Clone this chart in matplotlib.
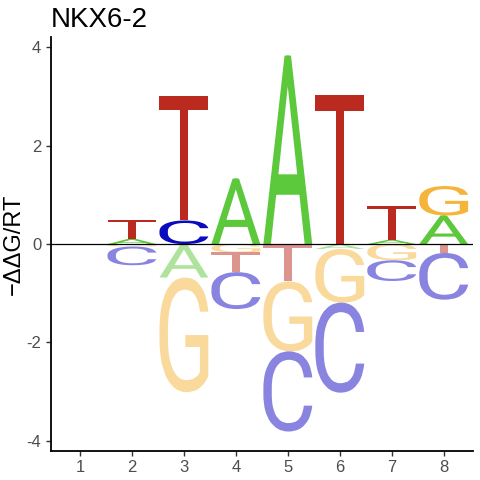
import matplotlib
matplotlib.use('Agg')
import matplotlib.pyplot as plt
import numpy as np
from matplotlib.font_manager import FontProperties
from matplotlib.textpath import TextPath
from matplotlib.patches import PathPatch
from matplotlib.transforms import Affine2D

plt.rcParams['axes.unicode_minus'] = False
plt.rcParams['font.family'] = ['Liberation Sans', 'DejaVu Sans']

# energy logo values (-ddG/RT) per position
positions = [1, 2, 3, 4, 5, 6, 7, 8]
letters = ['A', 'C', 'G', 'T']
val_A = [0.0, 0.11, -0.68, 1.33, 3.83, -0.10, 0.09, 0.58]
val_C = [0.0, -0.38, 0.48, -0.75, -1.63, -1.83, -0.42, -0.95]
val_G = [0.0, -0.05, -2.33, -0.17, -1.42, -1.09, -0.33, 0.60]
val_T = [0.0, 0.37, 2.53, -0.40, -0.76, 3.03, 0.69, -0.18]

colors_pos = {'A': '#5CC83C', 'C': '#0A0ABF', 'G': '#F5B53A', 'T': '#BA2A1E'}
colors_neg = {'A': '#ADE39D', 'C': '#8884E0', 'G': '#FADA9C', 'T': '#DC948E'}

glyph_font = FontProperties(family='Roboto', weight='normal')
LETTER_W = 0.94


def letter_patch(ch, x, y0, h, color):
    path = TextPath((0, 0), ch, size=1, prop=glyph_font)
    ext = path.get_extents()
    tr = (Affine2D().translate(-ext.x0, -ext.y0)
          .scale(LETTER_W / ext.width, h / ext.height)
          .translate(x - LETTER_W / 2, y0))
    return PathPatch(tr.transform_path(path), facecolor=color, edgecolor='none', lw=0)


fig = plt.figure(figsize=(4.8, 4.8), dpi=100)
ax = fig.add_axes([0.106, 0.061, 0.879, 0.862])

table = {'A': val_A, 'C': val_C, 'G': val_G, 'T': val_T}
for i, x in enumerate(positions):
    vals = [(l, table[l][i]) for l in letters]
    pos = sorted([v for v in vals if v[1] > 0], key=lambda v: v[1])
    neg = sorted([v for v in vals if v[1] < 0], key=lambda v: -v[1])
    y = 0.0
    for l, v in pos:
        ax.add_patch(letter_patch(l, x, y, v, colors_pos[l]))
        y += v
    y = 0.0
    for l, v in neg:
        ax.add_patch(letter_patch(l, x, y + v, -v, colors_neg[l]))
        y += v

ax.axhline(0, color='black', lw=0.9)
ax.set_xlim(0.44, 8.56)
ax.set_ylim(-4.2, 4.21)
ax.set_xticks(positions)
ax.set_yticks([-4, -2, 0, 2, 4])
for s in ['top', 'right']:
    ax.spines[s].set_visible(False)
for s in ['left', 'bottom']:
    ax.spines[s].set_linewidth(1.3)
ax.tick_params(axis='both', length=3.5, width=1, colors='#333333',
               labelcolor='#4D4D4D', labelsize=12)
ax.set_ylabel('\u2212\u0394\u0394G/RT', fontsize=17)
ax.yaxis.set_label_coords(-0.062, 0.5)
ax.set_title('NKX6-2', loc='left', fontsize=20, pad=7)

fig.savefig('out.png', dpi=100)
